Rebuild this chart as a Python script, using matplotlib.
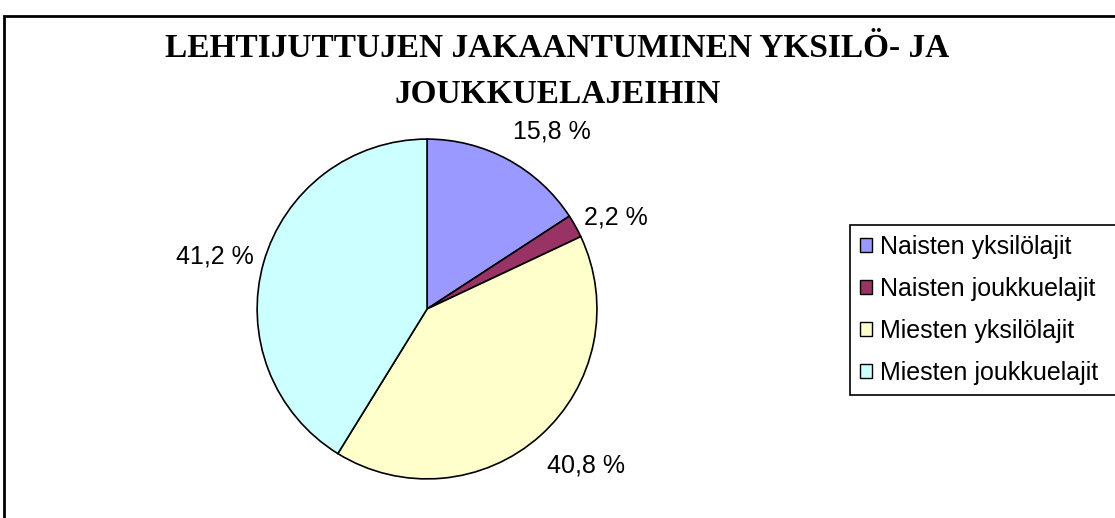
import matplotlib
matplotlib.use("Agg")
import numpy as np
import matplotlib.pyplot as plt
from matplotlib.patches import Rectangle

# share of newspaper articles (%)
categories = ["Naisten yksilölajit", "Naisten joukkuelajit",
              "Miesten yksilölajit", "Miesten joukkuelajit"]
shares = [15.8, 2.2, 40.8, 41.2]
colors = ["#9999FF", "#993366", "#FFFFCC", "#CCFFFF"]
title = "LEHTIJUTTUJEN JAKAANTUMINEN YKSILÖ- JA\nJOUKKUELAJEIHIN"

fig = plt.figure(figsize=(11.15, 5.18), dpi=100)
fig.patches.append(Rectangle((0.004, -0.1), 1.1, 1.069, transform=fig.transFigure,
                             fill=False, lw=2, ec="black"))

ax = fig.add_axes([0.2305, 0.0755, 0.305, 0.656])
wedges, texts, autotexts = ax.pie(
    shares, colors=colors, startangle=90, counterclock=False,
    autopct=lambda p: f"{p:.1f} %".replace(".", ","),
    wedgeprops=dict(edgecolor="black", linewidth=1.2),
    textprops=dict(fontsize=18, family="Liberation Sans"))
ax.set_xlim(-1, 1)
ax.set_ylim(-1, 1)
ax.set_aspect("equal")

# Excel-style outside labels: anchored just outside the rim at the mid-angle
for w, t in zip(wedges, autotexts):
    ang = np.deg2rad((w.theta1 + w.theta2) / 2)
    c, s = np.cos(ang), np.sin(ang)
    ha = "left" if c > 0.1 else "right" if c < -0.1 else "center"
    va = "bottom" if s > 0.6 else "top" if s < -0.6 else "center"
    dy = {"bottom": 0.04, "top": -0.06, "center": 0.02}[va]
    t.set_position((1.06 * c, 1.06 * s + dy))
    t.set_ha(ha)
    t.set_va(va)

fig.text(0.5, 0.862, title, ha="center", va="center", fontsize=24,
         fontweight="bold", family="Liberation Serif", linespacing=1.6)

leg = fig.legend(wedges, categories, loc="upper left",
                 bbox_to_anchor=(0.762, 0.2, 0.3, 0.366), mode="expand",
                 prop=dict(family="Liberation Sans", size=18), frameon=True,
                 fancybox=False, edgecolor="black", framealpha=1, borderpad=0.4,
                 labelspacing=0.72, handlelength=0.5, handleheight=0.5,
                 handletextpad=0.32, borderaxespad=0)
leg.get_frame().set_linewidth(1.2)
for h in leg.legend_handles:
    h.set_linewidth(1.0)

fig.savefig("out.png", dpi=100)
